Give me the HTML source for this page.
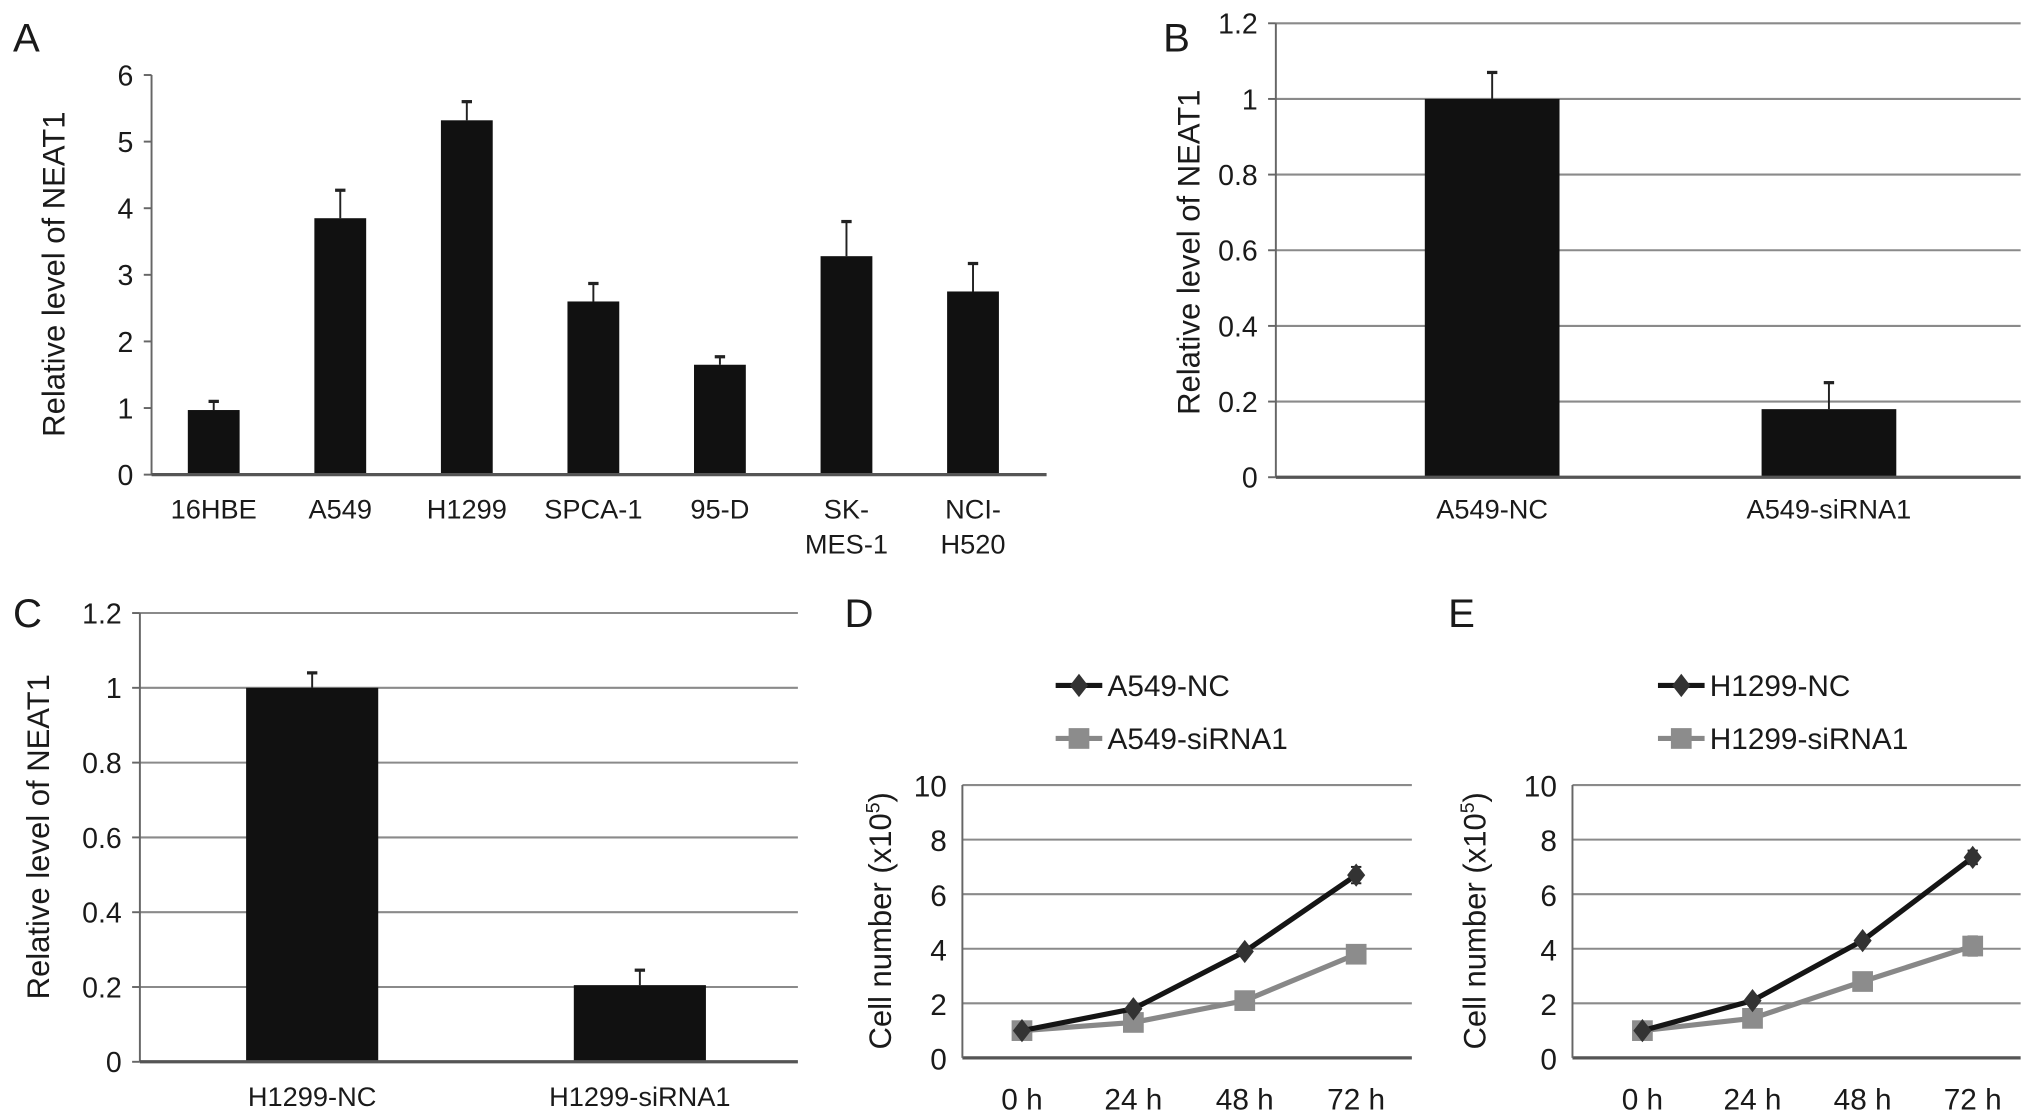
<!DOCTYPE html>
<html><head><meta charset="utf-8"><style>
html,body{margin:0;padding:0;background:#fff;}
svg{display:block;}
text{font-family:"Liberation Sans",Arial,sans-serif;fill:#1a1a1a;}
</style></head><body>
<svg id="fig" width="2031" height="1120" viewBox="0 0 1568 866" preserveAspectRatio="none">
</svg>
<script>
// Panel A data
const aCats = ["16HBE","A549","H1299","SPCA-1","95-D","SK-|MES-1","NCI-|H520"];
const aVals = [0.97,3.85,5.32,2.6,1.65,3.28,2.75];
const aErr = [0.13,0.42,0.28,0.27,0.12,0.52,0.42];
const aTicks = [0,1,2,3,4,5,6];
// Panel B
const bCats = ["A549-NC","A549-siRNA1"];
const bVals = [1.0,0.18];
const bErr = [0.07,0.07];
const bcTicks = ["0","0.2","0.4","0.6","0.8","1","1.2"];
// Panel C
const cCats = ["H1299-NC","H1299-siRNA1"];
const cVals = [1.0,0.205];
const cErr = [0.04,0.04];
// Panel D/E
const timeCats = ["0 h","24 h","48 h","72 h"];
const dNC = [1,1.8,3.9,6.7];
const dNCErr = [0.05,0.1,0.15,0.3];
const dSi = [1,1.3,2.1,3.8];
const eNC = [1,2.1,4.3,7.35];
const eNCErr = [0.05,0.1,0.15,0.25];
const eSi = [1,1.45,2.8,4.1];
const eSiErr = [0.05,0.1,0.15,0.35];
const deTicks = [0,2,4,6,8,10];

const svg = document.getElementById('fig');
const NS = "http://www.w3.org/2000/svg";
function mk(tag, attrs, parent){
  const e = document.createElementNS(NS, tag);
  for (const k in attrs) e.setAttribute(k, attrs[k]);
  (parent||svg).appendChild(e);
  return e;
}
function txt(s, x, y, size, anchor, parent, rot){
  const t = mk('text', {x:x, y:y, 'font-size':size, 'text-anchor':anchor||'middle'}, parent);
  if (rot) t.setAttribute('transform', 'rotate(-90 '+x+' '+y+')');
  t.textContent = s;
  return t;
}
function panelLetter(s,x,y){
  const t = txt(s,x,y,31,'start');
  
  
}

function barChart(o){
  const g = mk('g', {});
  
  
  const y = v => o.y0 - (v - 0) / o.max * (o.y0 - o.yTop);
  o.ticks.forEach(tv => {
    const v = parseFloat(tv);
    const yy = y(v);
    if (o.grid && v > 0) {
      const l = mk('line', {x1:o.x0, x2:o.xEnd, y1:yy, y2:yy, stroke:'#8a8a8a', 'stroke-width':1.6}, g);
      
      
    }
    mk('line', {x1:o.x0-6, x2:o.x0, y1:yy, y2:yy, stroke:'#666', 'stroke-width':1.5}, g);
    const t = txt(String(tv), o.x0-14, yy+8, 22, 'end', g);
    
    
  });
  mk('line', {x1:o.x0, x2:o.x0, y1:o.yTop, y2:o.y0, stroke:'#666', 'stroke-width':1.5}, g);
  o.cats.forEach((c, i) => {
    const cx = o.cx0 + i * o.step;
    const yv = y(o.vals[i]);
    const ye = y(o.vals[i] + o.err[i]);
    const el = mk('line', {x1:cx, x2:cx, y1:ye, y2:yv, stroke:'#222', 'stroke-width':1.5}, g);
    
    
    mk('line', {x1:cx-4, x2:cx+4, y1:ye, y2:ye, stroke:'#222', 'stroke-width':2.5}, g);
    const r = mk('rect', {x:cx-o.bw/2, y:yv, width:o.bw, height:o.y0-yv, fill:'#111'}, g);
    
    
    c.split('|').forEach((line, k) => {
      const t = txt(line, cx, o.labY + k*27, 21, 'middle', g);
      
      
    });
  });
  const base = mk('line', {x1:o.x0, x2:o.xEnd, y1:o.y0, y2:o.y0, stroke:'#555', 'stroke-width':2.5}, g);
  
  
  const tt = txt('Relative level of NEAT1', o.titleX, o.titleY, 24, 'middle', g, true);
  
  
}

barChart({name:'chart-a', cats:aCats, vals:aVals, err:aErr, ticks:aTicks, max:6,
  x0:117, xEnd:808, y0:367, yTop:58, cx0:165, step:97.7, bw:40, grid:false, labY:401, titleX:50, titleY:212});
barChart({name:'chart-b', cats:bCats, vals:bVals, err:bErr, ticks:bcTicks, max:1.2,
  x0:985, xEnd:1560, y0:369, yTop:18, cx0:1152, step:260, bw:104, grid:true, labY:401, titleX:926, titleY:195});
barChart({name:'chart-c', cats:cCats, vals:cVals, err:cErr, ticks:bcTicks, max:1.2,
  x0:108, xEnd:616, y0:821, yTop:474, cx0:241, step:253, bw:102, grid:true, labY:855, titleX:38, titleY:647});

function lineChart(o){
  const g = mk('g', {});
  
  
  const y = v => o.y0 - v / 10 * (o.y0 - o.yTop);
  const x = i => o.cx0 + i * o.step;
  deTicks.forEach(v => {
    const yy = y(v);
    const l = mk('line', {x1:o.x0, x2:o.xEnd, y1:yy, y2:yy, stroke: v===0?'#555':'#8a8a8a', 'stroke-width':v===0?2.5:1.6}, g);
    
    
    const t = txt(String(v), o.x0-12, yy+9, 23, 'end', g);
    
    
  });
  mk('line', {x1:o.x0, x2:o.x0, y1:o.yTop, y2:o.y0, stroke:'#666', 'stroke-width':1.5}, g);
  timeCats.forEach((c,i) => {
    const t = txt(c, x(i), o.y0+40, 23, 'middle', g);
    
    
  });
  const series = [
    {vals:o.si, err:o.siErr, color:'#888', marker:'square', name:o.siName},
    {vals:o.nc, err:o.ncErr, color:'#151515', marker:'diamond', name:o.ncName}
  ];
  series.forEach(s => {
    const pts = s.vals.map((v,i) => x(i)+','+y(v)).join(' ');
    const pl = mk('polyline', {points:pts, fill:'none', stroke:s.color, 'stroke-width':4}, g);
    
    
    s.vals.forEach((v,i) => {
      if (s.err) {
        const e = s.err[i];
        mk('line',{x1:x(i),x2:x(i),y1:y(v+e),y2:y(v-e),stroke:'#222','stroke-width':1.5},g);
        mk('line',{x1:x(i)-4,x2:x(i)+4,y1:y(v+e),y2:y(v+e),stroke:'#222','stroke-width':1.5},g);
        mk('line',{x1:x(i)-4,x2:x(i)+4,y1:y(v-e),y2:y(v-e),stroke:'#222','stroke-width':1.5},g);
      }
      let m;
      if (s.marker==='square') m = mk('rect',{x:x(i)-8,y:y(v)-8,width:16,height:16,fill:'#8c8c8c'},g);
      else m = mk('polygon',{points:`${x(i)},${y(v)-9} ${x(i)+7},${y(v)} ${x(i)},${y(v)+9} ${x(i)-7},${y(v)}`,fill:'#333'},g);
      
      
    });
  });
  [[o.ncName,'#151515','diamond',530],[o.siName,'#888','square',571]].forEach(([n,col,mkType,ly]) => {
    const lg = mk('g',{},g);
    
    
    mk('line',{x1:o.legX,x2:o.legX+36,y1:ly,y2:ly,stroke:col,'stroke-width':4},lg);
    const mx = o.legX+18;
    if (mkType==='square') mk('rect',{x:mx-8,y:ly-8,width:16,height:16,fill:'#8c8c8c'},lg);
    else mk('polygon',{points:`${mx},${ly-9} ${mx+7},${ly} ${mx},${ly+9} ${mx-7},${ly}`,fill:'#333'},lg);
    txt(n, o.legX+40, ly+8, 23, 'start', lg);
  });
  const tt = mk('text',{x:o.titleX,y:o.titleY,'font-size':24,'text-anchor':'middle',transform:'rotate(-90 '+o.titleX+' '+o.titleY+')'},g);
  tt.innerHTML = 'Cell number (x10<tspan dy="-9" font-size="15">5</tspan><tspan dy="9">)</tspan>';
  
  
}
lineChart({name:'chart-d', nc:dNC, ncErr:dNCErr, si:dSi, siErr:null, ncName:'A549-NC', siName:'A549-siRNA1',
  x0:743, xEnd:1090, y0:818, yTop:607, cx0:789, step:86, legX:815, titleX:688, titleY:712});
lineChart({name:'chart-e', nc:eNC, ncErr:eNCErr, si:eSi, siErr:eSiErr, ncName:'H1299-NC', siName:'H1299-siRNA1',
  x0:1214, xEnd:1560, y0:818, yTop:607, cx0:1268, step:85, legX:1280, titleX:1147, titleY:712});

panelLetter('A',10,40);
panelLetter('B',898,40);
panelLetter('C',10,485);
panelLetter('D',652,485);
panelLetter('E',1118,485);
</script>
</body></html>
